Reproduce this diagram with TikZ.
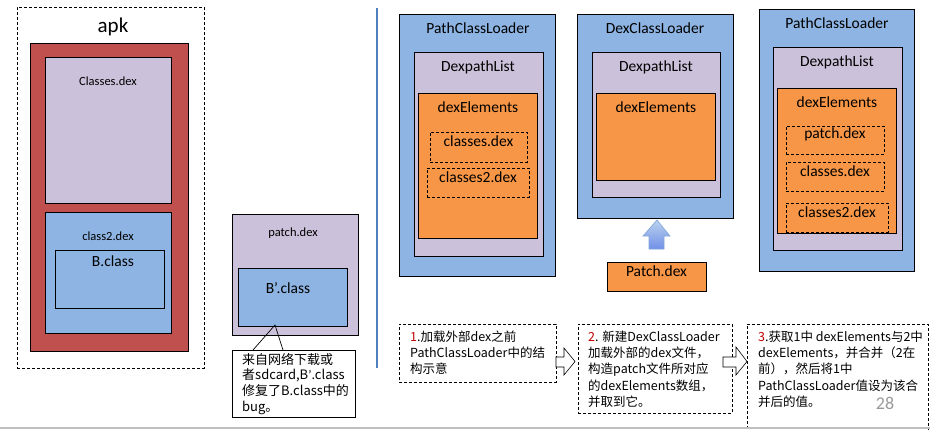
\documentclass[tikz,border=0pt]{standalone}
\usepackage{fontspec}
\setmainfont{Carlito}
\newfontfamily\cjk{Noto Sans CJK SC}
\newfontfamily\lat{Carlito}
\usetikzlibrary{fit}

\definecolor{apkred}{HTML}{C0504D}
\definecolor{lav}{HTML}{CCC1DA}
\definecolor{skyblue}{HTML}{8DB4E2}
\definecolor{dexorange}{HTML}{F79646}
\definecolor{sepblue}{HTML}{4F81BD}
\definecolor{numred}{HTML}{C00000}
\definecolor{arrowedge}{HTML}{7FA6DA}

\tikzset{
  box/.style={draw=black, line width=0.8pt, inner sep=0pt, outer sep=0pt},
  dashbox/.style={draw=black, line width=0.7pt, dash pattern=on 3pt off 2pt, inner sep=0pt, outer sep=0pt},
  biglbl/.style={inner sep=0pt, font=\fontsize{15.5}{18}\selectfont, text height=11pt, text depth=3pt},
  smalllbl/.style={inner sep=0pt, font=\fontsize{12.5}{15}\selectfont, text height=9pt, text depth=2.5pt},
  steptxt/.style={inner sep=0pt, align=left, anchor=north west, font=\cjk\fontsize{12.5}{16.3}\selectfont},
  notetxt/.style={inner sep=0pt, align=left, anchor=north west, font=\cjk\fontsize{13}{15.7}\selectfont}
}

\begin{document}
\begin{tikzpicture}[x=1pt,y=-1pt]
\useasboundingbox (0,0) rectangle (930,429);
\clip (0,0) rectangle (930,429);

% the apk
\node[dashbox, fit={(17,7) (204,368)}] (apk) {};
\node[inner sep=0pt, font=\fontsize{21}{24}\selectfont] (apk-t) at (113,27) {apk};
\node[box, fill=apkred, fit={(30,43) (188,351)}] (apkbody) {};
\node[box, fill=lav, fit={(45,57) (171,203)}] (classes) {};
\node[smalllbl] (classes-t) at (108,82) {Classes.dex};
\node[box, fill=skyblue, fit={(45,212) (171,333)}] (class2) {};
\node[smalllbl] (class2-t) at (108,237) {class2.dex};
\node[box, fill=skyblue, fit={(55,250) (164,308)}] (bclass) {};
\node[biglbl] (bclass-t) at (113,262) {B.class};

% the patch
\node[box, fill=lav, fit={(232,214) (358,335)}] (patchdex) {};
\node[smalllbl] (patchdex-t) at (293,233) {patch.dex};
\node[box, fill=skyblue, fit={(238,268) (347,326)}] (bprime) {};
\node[biglbl] (bprime-t) at (288,289) {B’.class};
\node[box, fill=white, fit={(232,350) (355,417)}] (note) {};
\node[notetxt] (note-t) at (242,353) {来自网络下载或\\者sdcard,B{\lat ’}.class\\修复了B.class中的\\bug。};
\coordinate (tip) at (275,325);
\draw[line width=0.7pt] (253,350) -- (tip) -- (283,350);

\draw[sepblue, line width=2.5pt] (377,8) -- (377,368);

% before
\node[box, fill=skyblue, fit={(399,14) (555,276)}] (pcl1) {};
\node[biglbl] (pcl1-t) at (478,29) {PathClassLoader};
\node[box, fill=lav, fit={(414,52) (543,256)}] (dpl1) {};
\node[biglbl] (dpl1-t) at (478,67) {DexpathList};
\node[box, fill=dexorange, fit={(418,93) (537,238)}] (de1) {};
\node[biglbl] (de1-t) at (478,108) {dexElements};
\node[dashbox, biglbl, fit={(430,132) (527,162)}] (cdx1) {classes.dex};
\node[dashbox, biglbl, fit={(427,168) (529,197)}] (c2dx1) {classes2.dex};

% the new loader
\node[box, fill=skyblue, fit={(577,14) (733,218)}] (dcl) {};
\node[biglbl] (dcl-t) at (655,29) {DexClassLoader};
\node[box, fill=lav, fit={(592,52) (720,197)}] (dpl2) {};
\node[biglbl] (dpl2-t) at (656,67) {DexpathList};
\node[box, fill=dexorange, fit={(596,93) (715,180)}] (de2) {};
\node[biglbl] (de2-t) at (656,108) {dexElements};
\node[box, biglbl, fill=dexorange, fit={(607,262) (706,291)}] (patchsrc) {Patch.dex};
\draw[draw=arrowedge, line width=0.6pt, top color=skyblue!60!white, bottom color=skyblue!80!blue]
  (657,220) -- (670,236) -- (664,236) -- (664,249) -- (649,249) -- (649,236) -- (643,236) -- cycle;

% after
\node[box, fill=skyblue, fit={(759,9) (914,271)}] (pcl3) {};
\node[biglbl] (pcl3-t) at (837,24) {PathClassLoader};
\node[box, fill=lav, fit={(773,47) (902,250)}] (dpl3) {};
\node[biglbl] (dpl3-t) at (837,62) {DexpathList};
\node[box, fill=dexorange, fit={(777,88) (896,233)}] (de3) {};
\node[biglbl] (de3-t) at (837,103) {dexElements};
\node[dashbox, biglbl, fit={(786,126) (884,154)}] (pdx3) {patch.dex};
\node[dashbox, biglbl, fit={(786,162) (884,191)}] (cdx3) {classes.dex};
\node[dashbox, biglbl, fit={(786,203) (888,232)}] (c2dx3) {classes2.dex};

% steps
\node[dashbox, fit={(399,324) (556,382)}] (step1) {};
\node[steptxt] (step1-t) at (410,330.5) {\textcolor{numred}{1}.加载外部dex之前\\PathClassLoader中的结\\构示意};
\node[dashbox, fit={(578,324) (732,413)}] (step2) {};
\node[steptxt] (step2-t) at (588,330.5) {\textcolor{numred}{2}. 新建DexClassLoader\\加载外部的dex文件，\\构造patch文件所对应\\的dexElements数组，\\并取到它。};
\node[dashbox, fit={(747,324) (928,445)}] (step3) {};
\node[steptxt] (step3-t) at (758,330.5) {\textcolor{numred}{3}.获取1中 dexElements与2中\\dexElements，并合并（2在\\前），然后将1中\\PathClassLoader值设为该合\\并后的值。};
\draw[fill=white, line width=0.6pt] (556,357) -- (564,357) -- (564,348) -- (575,361.5) -- (564,375) -- (564,367) -- (556,367) -- cycle;
\draw[fill=white, line width=0.6pt] (723,357) -- (736,357) -- (736,347) -- (747,361.5) -- (736,375) -- (736,367) -- (723,367) -- cycle;
\node[inner sep=0pt, text=black!40, font=\fontsize{18}{20}\selectfont] (pageno) at (885,403) {28};

\draw[black!25, line width=1.5pt] (0,428) -- (930,428);
\end{tikzpicture}
\end{document}
